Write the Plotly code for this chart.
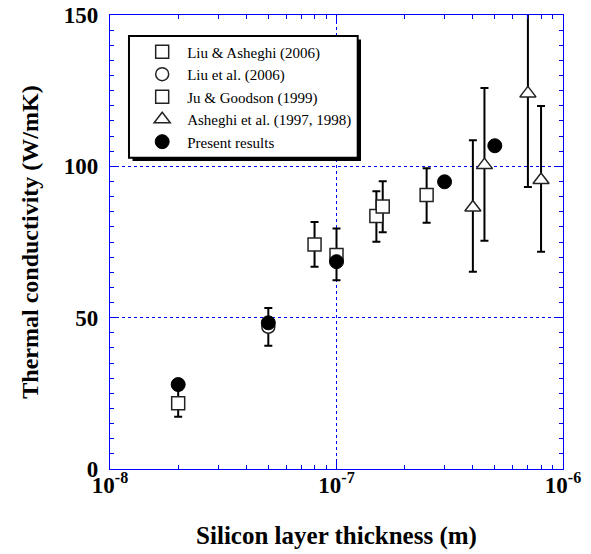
import plotly.graph_objects as go

# ---------------- data ----------------
liu_ash_x = [2e-8, 1e-7, 1.5e-7, 1.6e-7]
liu_ash_y = [21.7, 70.7, 83.6, 86.7]
liu_ash_ep = [4.4, 8.8, 8.2, 8.4]
liu_ash_em = [4.4, 8.3, 8.5, 8.5]

liu_x = [5e-8]
liu_y = [47.0]
liu_ep = [6.2]
liu_em = [6.3]

ju_x = [8e-8, 2.5e-7]
ju_y = [74.2, 90.5]
ju_ep = [7.4, 8.9]
ju_em = [7.4, 9.1]

ash_x = [4e-7, 4.5e-7, 7e-7, 8e-7]
ash_y = [86.4, 100.4, 124.1, 95.5]
ash_ep = [22.2, 25.5, 31.0, 24.4]
ash_em = [21.2, 25.0, 30.9, 23.7]

pres_x = [2e-8, 5e-8, 1e-7, 3e-7, 5e-7]
pres_y = [27.9, 48.3, 68.5, 94.9, 106.8]

x_tickvals = [1e-8, 1e-7, 1e-6]
x_ticktext = ["10<sup>-8</sup>", "10<sup>-7</sup>", "10<sup>-6</sup>"]
y_tickvals = [0, 50, 100, 150]

SERIF = "Liberation Serif"


def err(ep, em):
    return dict(type="data", symmetric=False, array=ep, arrayminus=em,
                color="black", thickness=2, width=4)


fig = go.Figure()

fig.add_trace(go.Scatter(
    x=liu_ash_x, y=liu_ash_y, mode="markers", name="Liu & Asheghi (2006)",
    marker=dict(symbol="square", size=13, color="white",
                line=dict(color="#222", width=1.5)),
    error_y=err(liu_ash_ep, liu_ash_em)))

fig.add_trace(go.Scatter(
    x=liu_x, y=liu_y, mode="markers", name="Liu et al. (2006)",
    marker=dict(symbol="circle", size=13, color="white",
                line=dict(color="#222", width=1.5)),
    error_y=err(liu_ep, liu_em)))

fig.add_trace(go.Scatter(
    x=ju_x, y=ju_y, mode="markers", name="Ju & Goodson (1999)",
    marker=dict(symbol="square", size=13, color="white",
                line=dict(color="#222", width=1.5)),
    error_y=err(ju_ep, ju_em)))

fig.add_trace(go.Scatter(
    x=ash_x, y=ash_y, mode="markers", name="Asheghi et al. (1997, 1998)",
    marker=dict(symbol="triangle-up", size=14, color="white",
                line=dict(color="#222", width=1.5)),
    error_y=err(ash_ep, ash_em)))

fig.add_trace(go.Scatter(
    x=pres_x, y=pres_y, mode="markers", name="Present results",
    marker=dict(symbol="circle", size=14, color="black",
                line=dict(color="black", width=1))))

# legend frame with drop shadow (paper coordinates)
fig.add_shape(type="rect", xref="paper", yref="paper",
              x0=0.0497, x1=0.5541, y0=0.6784, y1=0.946,
              fillcolor="black", line=dict(width=0), layer="above")
fig.add_shape(type="rect", xref="paper", yref="paper",
              x0=0.0419, x1=0.5468, y0=0.6857, y1=0.9537,
              fillcolor="white", line=dict(color="black", width=2), layer="above")

axis_common = dict(
    showline=True, linecolor="#0000ff", linewidth=1.2, mirror="allticks",
    ticks="inside", tickcolor="#0000ff", ticklen=7, tickwidth=1,
    showgrid=True, gridcolor="#0000ff", griddash="dot", gridwidth=1,
    zeroline=False, ticklabeloverflow="allow",
    tickfont=dict(family=SERIF, size=23, color="black", weight="bold"),
)

fig.update_xaxes(
    type="log", range=[-8, -6],
    tickvals=x_tickvals, ticktext=x_ticktext,
    minor=dict(ticks="inside", ticklen=4, tickcolor="#0000ff", dtick="D1", showgrid=False),
    title=dict(text="Silicon layer thickness (m)",
               font=dict(family=SERIF, size=25, color="black", weight="bold"),
               standoff=29),
    ticklabelstandoff=-5,
    **axis_common)

fig.update_yaxes(
    range=[0, 150], tickvals=y_tickvals,
    minor=dict(ticks="inside", ticklen=4, tickcolor="#0000ff", dtick=5, showgrid=False),
    title=dict(text="Thermal conductivity (W/mK)",
               font=dict(family=SERIF, size=24, color="black", weight="bold"),
               standoff=18),
    ticklabelstandoff=6,
    **axis_common)

# page body has an 8px margin: shrink the figure so the plot area lands in place
fig.update_layout(
    width=583, height=546,
    margin=dict(l=102, r=28, t=7, b=85, autoexpand=False),
    paper_bgcolor="white", plot_bgcolor="white",
    showlegend=True,
    legend=dict(x=0.06, y=0.955, xanchor="left", yanchor="top",
                bgcolor="rgba(0,0,0,0)", borderwidth=0,
                font=dict(family=SERIF, size=15, color="black"),
                itemwidth=40),
)

fig.write_html("out.html")
